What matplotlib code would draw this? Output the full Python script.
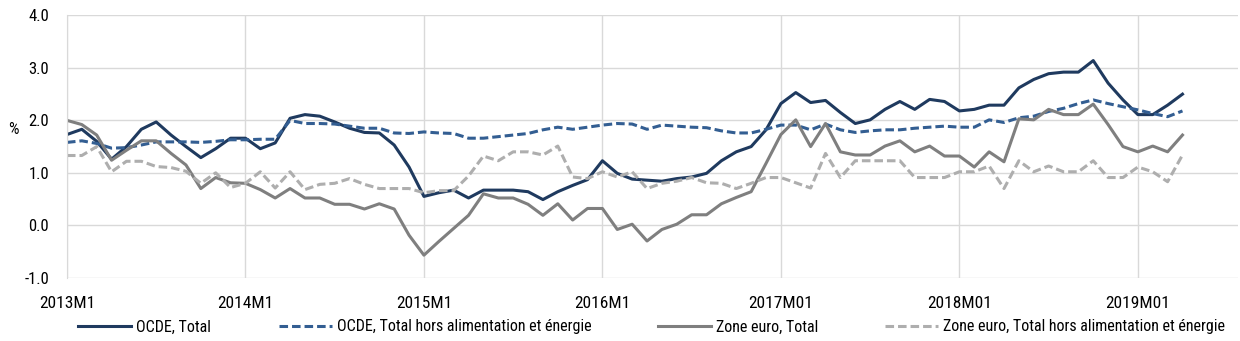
import matplotlib
matplotlib.use("Agg")
import matplotlib.pyplot as plt
from matplotlib import font_manager

# Monthly year-on-year inflation, 2013M1 .. 2019M04 (%)
ocde_total = [
    1.73, 1.83, 1.60, 1.26, 1.50, 1.83, 1.97, 1.72, 1.50, 1.29, 1.46, 1.66,
    1.66, 1.46, 1.57, 2.04, 2.11, 2.08, 1.97, 1.85, 1.77, 1.76, 1.53, 1.11,
    0.55, 0.62, 0.67, 0.52, 0.67, 0.67, 0.67, 0.64, 0.49, 0.64, 0.76, 0.87,
    1.23, 0.99, 0.88, 0.86, 0.84, 0.89, 0.92, 0.99, 1.23, 1.40, 1.50, 1.82,
    2.32, 2.53, 2.34, 2.38, 2.15, 1.94, 2.01, 2.21, 2.36, 2.21, 2.40, 2.36,
    2.18, 2.21, 2.29, 2.29, 2.62, 2.78, 2.89, 2.92, 2.92, 3.14, 2.71, 2.39,
    2.11, 2.11, 2.29, 2.50,
]
ocde_core = [
    1.58, 1.61, 1.56, 1.47, 1.48, 1.53, 1.59, 1.59, 1.59, 1.58, 1.60, 1.63,
    1.63, 1.64, 1.64, 2.00, 1.94, 1.94, 1.93, 1.89, 1.85, 1.85, 1.76, 1.75,
    1.78, 1.76, 1.75, 1.66, 1.66, 1.69, 1.72, 1.75, 1.82, 1.87, 1.83, 1.87,
    1.91, 1.94, 1.93, 1.83, 1.91, 1.89, 1.87, 1.86, 1.80, 1.76, 1.76, 1.83,
    1.91, 1.91, 1.82, 1.93, 1.82, 1.77, 1.80, 1.82, 1.82, 1.85, 1.87, 1.89,
    1.87, 1.87, 2.01, 1.96, 2.05, 2.08, 2.17, 2.23, 2.32, 2.39, 2.32, 2.26,
    2.20, 2.13, 2.07, 2.18,
]
euro_total = [
    2.00, 1.92, 1.72, 1.24, 1.43, 1.61, 1.61, 1.37, 1.15, 0.70, 0.91, 0.81,
    0.80, 0.68, 0.52, 0.70, 0.52, 0.52, 0.40, 0.40, 0.31, 0.41, 0.31, -0.19,
    -0.57, -0.31, -0.06, 0.19, 0.60, 0.52, 0.52, 0.40, 0.19, 0.41, 0.10, 0.32,
    0.32, -0.08, 0.02, -0.30, -0.08, 0.02, 0.20, 0.20, 0.41, 0.53, 0.64, 1.18,
    1.73, 2.01, 1.50, 1.94, 1.40, 1.34, 1.34, 1.51, 1.61, 1.40, 1.51, 1.32,
    1.32, 1.11, 1.40, 1.21, 2.03, 2.01, 2.21, 2.11, 2.11, 2.31, 1.92, 1.50,
    1.40, 1.51, 1.40, 1.72,
]
euro_core = [
    1.33, 1.33, 1.50, 1.02, 1.22, 1.22, 1.12, 1.10, 1.03, 0.80, 1.00, 0.72,
    0.80, 1.02, 0.71, 1.02, 0.68, 0.78, 0.80, 0.89, 0.78, 0.70, 0.70, 0.70,
    0.62, 0.66, 0.66, 0.94, 1.32, 1.23, 1.40, 1.40, 1.34, 1.51, 0.92, 0.89,
    1.02, 0.92, 1.02, 0.70, 0.80, 0.84, 0.91, 0.81, 0.80, 0.70, 0.80, 0.91,
    0.91, 0.81, 0.71, 1.37, 0.91, 1.23, 1.23, 1.23, 1.23, 0.91, 0.91, 0.91,
    1.02, 1.02, 1.13, 0.70, 1.23, 1.02, 1.13, 1.02, 1.02, 1.23, 0.91, 0.91,
    1.11, 1.02, 0.83, 1.34,
]

tick_labels = ["2013M1", "2014M1", "2015M1", "2016M1", "2017M01", "2018M01", "2019M01"]
series_labels = [
    "OCDE, Total",
    "OCDE, Total hors alimentation et énergie",
    "Zone euro, Total",
    "Zone euro, Total hors alimentation et énergie",
]

# pick the narrowest sans available
installed = {f.name for f in font_manager.fontManager.ttflist}
family = "DejaVu Sans"
for name in ["Liberation Sans Narrow", "Roboto Condensed", "Roboto", "Lato"]:
    if name in installed:
        family = name
        break
plt.rcParams["font.family"] = [family, "DejaVu Sans"]

months = list(range(len(ocde_total)))

fig = plt.figure(figsize=(12.4, 3.41), dpi=100)
ax = fig.add_axes([0.054, 0.1856, 0.944, 0.769])

grid_col = "#d9d9d9"
lw = 2.2
dash = (2.8, 1.3)

styles = [
    dict(color="#1f3a5f", lw=lw, solid_joinstyle="round"),
    dict(color="#335e92", lw=lw, dashes=dash),
    dict(color="#7f7f7f", lw=lw, solid_joinstyle="round"),
    dict(color="#aeaeae", lw=lw, dashes=dash),
]
lines = []
for values, label, st in zip([ocde_total, ocde_core, euro_total, euro_core],
                             series_labels, styles):
    ln, = ax.plot(months, values, label=label, **st)
    lines.append(ln)

ax.set_ylim(-1.0, 4.0)
ax.set_xlim(0, 78.7)
ax.set_yticks([-1.0, 0.0, 1.0, 2.0, 3.0, 4.0])
ax.set_yticklabels([f"{v:.1f}" for v in ax.get_yticks()])
ax.set_xticks([12 * i for i in range(len(tick_labels))])
ax.set_xticklabels(tick_labels)

ax.grid(True, color=grid_col, lw=1.0)
ax.set_axisbelow(True)
for side in ["top", "right", "bottom"]:
    ax.spines[side].set_visible(False)
ax.spines["left"].set_color(grid_col)
ax.tick_params(length=0, colors="#000000")
ax.tick_params(axis="x", pad=13, labelsize=12.5)
ax.tick_params(axis="y", pad=13, labelsize=12)

fig.text(0.0105, 0.62, "%", fontsize=12, va="center", ha="center")

# one legend per entry so each sits where it belongs along the bottom
legend_x = [78, 279, 658, 885]
for ln, lbl, x0 in zip(lines, series_labels, legend_x):
    fig.legend([ln], [lbl], loc="center left",
               bbox_to_anchor=(x0 / 1240, 1 - 327 / 341),
               frameon=False, fontsize=11.5, handlelength=3.3,
               handletextpad=0.35, borderaxespad=0, borderpad=0)

fig.savefig("out.png", dpi=100)
